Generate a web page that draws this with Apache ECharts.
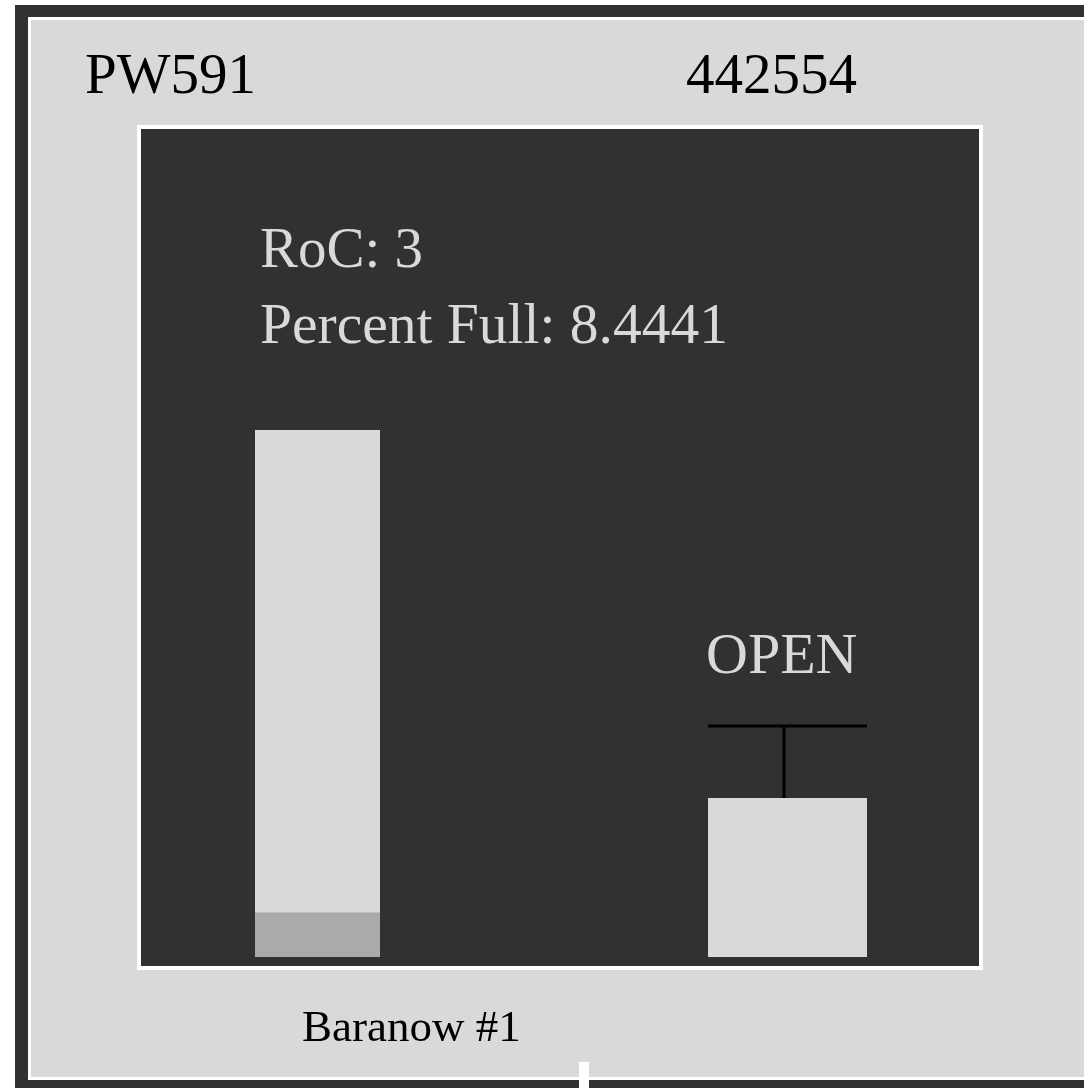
<!DOCTYPE html>
<html>
<head>
<meta charset="utf-8">
<script src="https://cdn.jsdelivr.net/npm/echarts@6/dist/echarts.min.js"></script>
<style>html,body{margin:0;padding:0;background:#fff;}#c{width:1084px;height:1088px;}</style>
</head>
<body>
<div id="c"></div>
<script>
// ---- data ----
const tankNames = ['PW591'];
const tankIds = ['442554'];
const rocValues = [3];
const percentFull = [8.4441];
const tankCapacity = [100];
const valveStates = ['OPEN'];
const wellNames = ['Baranow #1'];

const chart = echarts.init(document.getElementById('c'), null, {renderer: 'canvas'});
const serif = '"Liberation Serif", "Times New Roman", serif';
const DARK = '#313131', LIGHT = '#d9d9d9';

function txt(text, x, baseline, size, color) {
  return {
    type: 'text', z: 20, x: x, y: baseline + 2 - size * 0.3375,
    style: {text: text, fontFamily: serif, fontSize: size, fill: color, verticalAlign: 'middle', align: 'left'}
  };
}

const option = {
  backgroundColor: '#ffffff',
  animation: false,
  grid: {left: 255, top: 430, width: 125, height: 527, containLabel: false},
  xAxis: {type: 'category', data: tankNames, show: false},
  yAxis: {type: 'value', min: 0, max: tankCapacity[0], show: false},
  series: [
    {type: 'bar', data: tankCapacity, barWidth: '100%', barGap: '-100%', z: 10,
     itemStyle: {color: LIGHT}, silent: true},
    {type: 'bar', data: percentFull, barWidth: '100%', barGap: '-100%', z: 11,
     itemStyle: {color: '#aaaaaa'}, silent: true}
  ],
  graphic: [
    {type: 'rect', z: 0, shape: {x: 15, y: 5, width: 1100, height: 1100}, style: {fill: DARK}},
    {type: 'rect', z: 1, shape: {x: 29.5, y: 18.5, width: 1100, height: 1060}, style: {fill: LIGHT, stroke: '#ffffff', lineWidth: 3}},
    {type: 'rect', z: 2, shape: {x: 579, y: 1062, width: 10, height: 30}, style: {fill: '#ffffff'}},
    {type: 'rect', z: 2, shape: {x: 139, y: 127, width: 842, height: 841}, style: {fill: DARK, stroke: '#ffffff', lineWidth: 4}},
    // valve
    {type: 'line', z: 12, shape: {x1: 708, y1: 726, x2: 867, y2: 726}, style: {stroke: '#000', lineWidth: 3}},
    {type: 'line', z: 12, shape: {x1: 784, y1: 726, x2: 784, y2: 798}, style: {stroke: '#000', lineWidth: 3}},
    {type: 'rect', z: 12, shape: {x: 708, y: 798, width: 159, height: 159}, style: {fill: LIGHT}},
    // texts
    txt(tankNames[0], 85, 95, 57, '#000'),
    txt(tankIds[0], 686, 95, 57, '#000'),
    txt('RoC: ' + rocValues[0], 260, 269, 57, LIGHT),
    txt('Percent Full: ' + percentFull[0], 260, 345, 57.5, LIGHT),
    txt(valveStates[0], 706, 675, 58, LIGHT),
    txt(wellNames[0], 302, 1042, 45, '#000')
  ]
};
chart.setOption(option);
</script>
</body>
</html>
